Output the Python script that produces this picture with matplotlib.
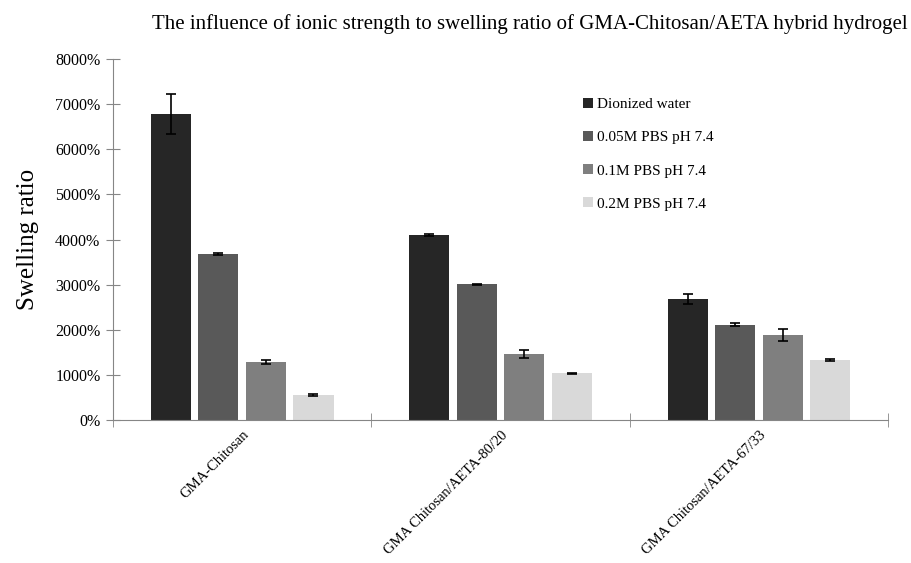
import numpy as np
import matplotlib
matplotlib.use("Agg")
import matplotlib.pyplot as plt
from matplotlib.ticker import FuncFormatter

plt.rcParams['font.family'] = ['Liberation Serif', 'DejaVu Serif']

samples = ['GMA-Chitosan', 'GMA Chitosan/AETA-80/20', 'GMA Chitosan/AETA-67/33']
media = ['Dionized water', '0.05M PBS pH 7.4', '0.1M PBS pH 7.4', '0.2M PBS pH 7.4']

# swelling ratio in %, one list per medium (order follows samples)
dionized = [6780, 4100, 2680]
pbs_005 = [3680, 3010, 2110]
pbs_01 = [1290, 1460, 1890]
pbs_02 = [555, 1035, 1330]

dionized_err = [450, 15, 110]
pbs_005_err = [20, 15, 30]
pbs_01_err = [50, 95, 130]
pbs_02_err = [30, 15, 20]

values = [dionized, pbs_005, pbs_01, pbs_02]
errors = [dionized_err, pbs_005_err, pbs_01_err, pbs_02_err]
colors = ['#262626', '#595959', '#7f7f7f', '#d9d9d9']

fig = plt.figure(figsize=(9.11, 5.63), dpi=100)
ax = fig.add_axes([0.124, 0.254, 0.851, 0.641])

x = np.arange(len(samples))
step = 0.184
width = 0.155
for i in range(len(media)):
    ax.bar(x + (i - 1.5) * step, values[i], width, color=colors[i], label=media[i],
           yerr=errors[i], capsize=3.5, error_kw=dict(ecolor='black', elinewidth=1.2, capthick=1.2))

ax.set_xlim(-0.5, 2.5)
ax.set_ylim(0, 8000)
ax.set_yticks(np.arange(0, 8001, 1000))
ax.yaxis.set_major_formatter(FuncFormatter(lambda v, p: '%d%%' % v))

ax.set_xticks(x)
ax.set_xticklabels(samples, rotation=45, ha='right', rotation_mode='anchor', fontsize=10.5)
ax.set_xticks([-0.5, 0.5, 1.5, 2.5], minor=True)
ax.tick_params(axis='x', which='major', length=0, pad=6)
ax.tick_params(axis='x', which='minor', direction='inout', length=10, color='#868686')
ax.tick_params(axis='y', direction='inout', length=10, color='#868686', labelsize=11.5, pad=4)

for s in ['top', 'right']:
    ax.spines[s].set_visible(False)
ax.spines['left'].set_color('#868686')
ax.spines['bottom'].set_color('#868686')

ax.set_ylabel('Swelling ratio', fontsize=18, labelpad=12)
fig.text(0.582, 0.958, 'The influence of ionic strength to swelling ratio of GMA-Chitosan/AETA hybrid hydrogel',
         ha='center', va='center', fontsize=15)

ax.legend(loc='upper left', bbox_to_anchor=(0.589, 0.93), frameon=False, fontsize=11,
          handlelength=0.6, handleheight=0.6, handletextpad=0.3, labelspacing=1.3)

fig.savefig('out.png', dpi=100)
